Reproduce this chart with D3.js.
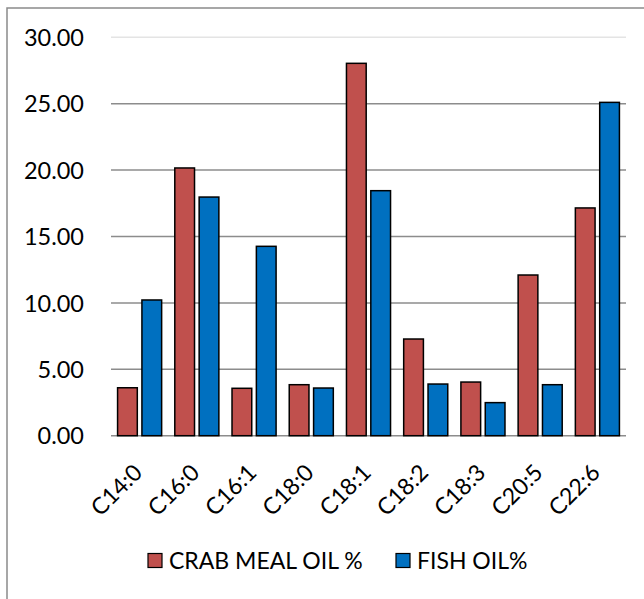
<!DOCTYPE html>
<html>
<head>
<meta charset="utf-8">
<script src="https://cdn.jsdelivr.net/npm/d3@7"></script>
<style>
  html, body { margin: 0; padding: 0; background: #fff; }
  svg { display: block; }
  text { font-family: Lato, "Open Sans", sans-serif; fill: #000; }
</style>
</head>
<body>
<svg id="chart" width="644" height="599"></svg>
<script>
const categories = ["C14:0","C16:0","C16:1","C18:0","C18:1","C18:2","C18:3","C20:5","C22:6"];
const seriesNames = ["CRAB MEAL OIL %","FISH OIL%"];
const crabMealOil = [3.61, 20.16, 3.57, 3.84, 28.04, 7.28, 4.04, 12.10, 17.15];
const fishOil     = [10.22, 17.97, 14.26, 3.59, 18.45, 3.89, 2.49, 3.84, 25.10];
const seriesColors = ["#C0504D", "#0070C0"];
const yTicks = [0, 5, 10, 15, 20, 25, 30];

const svg = d3.select("#chart");

// outer border
svg.append("rect")
  .attr("x", 7).attr("y", 8).attr("width", 700).attr("height", 700)
  .attr("fill", "none").attr("stroke", "#8a8a8a").attr("stroke-width", 1.5);

const x0 = d3.scaleBand().domain(categories).range([111, 626]).paddingInner(0).paddingOuter(0);
const x1 = d3.scaleBand().domain(seriesNames).range([0, x0.bandwidth()]).paddingInner(0.19).paddingOuter(0.27);
const y = d3.scaleLinear().domain([0, 30]).range([435.7, 37.3]);

// gridlines
svg.append("g").selectAll("line").data(yTicks).join("line")
  .attr("x1", 111).attr("x2", 626)
  .attr("y1", d => y(d)).attr("y2", d => y(d))
  .attr("stroke", d => d === 30 ? "#e4e4e4" : "#8c8c8c")
  .attr("stroke-width", 1.5);

// y axis labels
const yAxis = d3.axisLeft(y).tickValues(yTicks).tickFormat(d3.format(".2f")).tickSize(0).tickPadding(0);
const gy = svg.append("g").attr("transform", "translate(84,0)").call(yAxis);
gy.select(".domain").remove();
gy.selectAll("text").attr("font-size", 23.5).attr("font-family", "Lato, sans-serif").attr("fill", "#000").attr("dy", "0.35em");

// bars
const data = categories.map((c, i) => ({cat: c, vals: [crabMealOil[i], fishOil[i]]}));
const groups = svg.append("g").selectAll("g").data(data).join("g")
  .attr("transform", d => `translate(${x0(d.cat)},0)`);
groups.selectAll("rect").data(d => d.vals.map((v, j) => ({s: seriesNames[j], v, j}))).join("rect")
  .attr("x", d => x1(d.s))
  .attr("width", x1.bandwidth())
  .attr("y", d => y(d.v))
  .attr("height", d => y(0) - y(d.v))
  .attr("fill", d => seriesColors[d.j])
  .attr("stroke", "#000").attr("stroke-width", 1.5);

// x axis labels
const gx = svg.append("g");
gx.selectAll("text").data(categories).join("text")
  .attr("transform", d => `translate(${x0(d) + x0.bandwidth()/2 + 4},474) rotate(-45)`)
  .attr("text-anchor", "end")
  .attr("font-size", 23)
  .text(d => d);

// legend
const legendItems = [{x: 148, tx: 169}, {x: 396, tx: 417}];
const lg = svg.append("g");
seriesNames.forEach((s, i) => {
  lg.append("rect").attr("x", legendItems[i].x).attr("y", 553.5).attr("width", 14).attr("height", 14)
    .attr("fill", seriesColors[i]).attr("stroke", "#000").attr("stroke-width", 1.2);
  lg.append("text").attr("x", legendItems[i].tx).attr("y", 568.5).attr("font-size", 23).text(s);
});
</script>
</body>
</html>
